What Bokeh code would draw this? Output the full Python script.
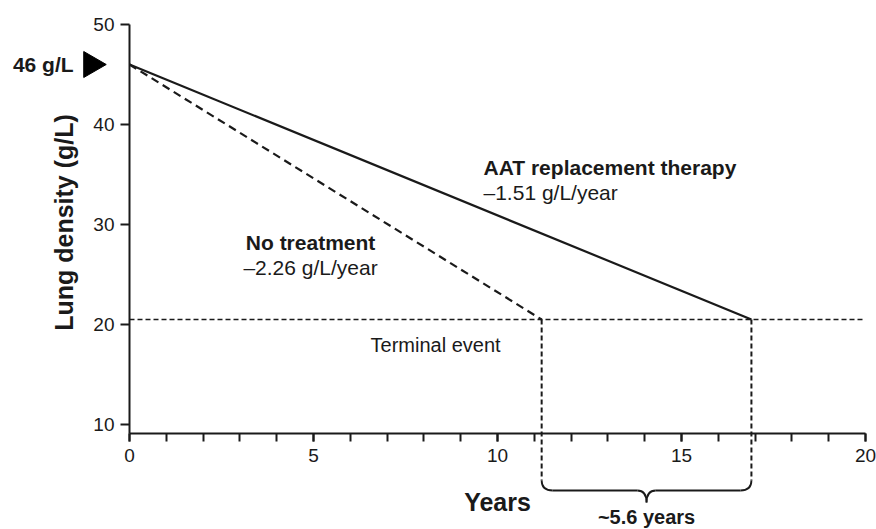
import math
from bokeh.plotting import figure
from bokeh.models import FixedTicker, Range1d
from bokeh.core.properties import value
from bokeh.embed import file_html
from bokeh.resources import INLINE

# ---------------- data ----------------
year_ticks = [0, 5, 10, 15, 20]
year_minor_ticks = list(range(0, 21))
density_ticks = [10, 20, 30, 40, 50]

baseline_density = 46
terminal_density = 20.5

no_treatment_x = [0, 11.2]
no_treatment_y = [46, 20.5]
aat_x = [0, 16.9]
aat_y = [46, 20.5]

terminal_x = [0, 20]

baseline_label = "46 g/L"
no_treatment_title = "No treatment"
no_treatment_rate = "\u20132.26 g/L/year"
aat_title = "AAT replacement therapy"
aat_rate = "\u20131.51 g/L/year"
terminal_label = "Terminal event"
gap_label = "~5.6 years"
x_title = "Years"
y_title = "Lung density (g/L)"

# ---------------- figure ----------------
W, H = 876, 529
PX_PER_YEAR = 36.8
PX_PER_GL = 10.0
x_start = -129 / PX_PER_YEAR
y_end = 50 + 24 / PX_PER_GL

p = figure(width=W, height=H, output_backend="svg", toolbar_location=None,
           x_range=Range1d(x_start, x_start + W / PX_PER_YEAR),
           y_range=Range1d(y_end - H / PX_PER_GL, y_end),
           min_border=0)
p.outline_line_color = None
p.grid.visible = False
p.background_fill_color = "white"
p.border_fill_color = "white"

FONT = value("Liberation Sans")
INK = "#1a1a1a"
X_AXIS_AT = 9.15

# axes
xa = p.xaxis[0]
xa.fixed_location = X_AXIS_AT
xa.bounds = (0, 20)
xa.ticker = FixedTicker(ticks=year_ticks, minor_ticks=year_minor_ticks)
ya = p.yaxis[0]
ya.fixed_location = 0
ya.bounds = (X_AXIS_AT, 50)
ya.ticker = FixedTicker(ticks=density_ticks, minor_ticks=[])
for ax in (xa, ya):
    ax.axis_line_width = 2
    ax.axis_line_color = INK
    ax.major_tick_line_width = 2
    ax.major_tick_line_color = INK
    ax.minor_tick_line_width = 2
    ax.minor_tick_line_color = INK
    ax.major_tick_in = 0
    ax.minor_tick_in = 0
    ax.major_label_text_font = "Liberation Sans"
    ax.major_label_text_font_size = "19px"
    ax.major_label_text_color = INK
xa.major_tick_out = 8
xa.minor_tick_out = 8
xa.major_label_standoff = 8
ya.major_tick_out = 9
ya.major_label_standoff = 6

# terminal event line
p.line(terminal_x, [terminal_density, terminal_density], line_color=INK,
       line_width=1.6, line_dash="5 3")

# treatment lines
p.line(no_treatment_x, no_treatment_y, line_color=INK, line_width=2.2, line_dash="8 5")
p.line(aat_x, aat_y, line_color=INK, line_width=2.2)

# brace beneath the gap
bx0 = no_treatment_x[1]
bx1 = aat_x[1]
bxm = (bx0 + bx1) / 2
by_top, by_mid, by_tip = 4.4, 3.4, 2.2
rc, rt = 0.3, 0.25
p.segment(x0=[bx0, bx1], y0=[terminal_density, terminal_density],
          x1=[bx0, bx1], y1=[by_top, by_top],
          line_color=INK, line_width=2, line_dash="5 3")
p.quadratic(x0=[bx0, bx1, bxm - rt, bxm + rt],
            y0=[by_top, by_top, by_mid, by_mid],
            x1=[bx0 + rc, bx1 - rc, bxm, bxm],
            y1=[by_mid, by_mid, by_tip, by_tip],
            cx=[bx0, bx1, bxm, bxm],
            cy=[by_mid, by_mid, by_mid, by_mid],
            line_color=INK, line_width=1.8)
p.segment(x0=[bx0 + rc, bxm + rt], y0=[by_mid, by_mid],
          x1=[bxm - rt, bx1 - rc], y1=[by_mid, by_mid],
          line_color=INK, line_width=1.8)

# baseline marker
p.scatter(x=[-1.04], y=[baseline_density], marker="triangle", angle=-math.pi / 2,
          size=26, fill_color="black", line_color="black")
p.text(x=[-1.52], y=[baseline_density], text=[baseline_label], text_font=FONT,
       text_font_size="21px", text_font_style="bold", text_align="right",
       text_baseline="middle", text_color=INK)

# annotations
p.text(x=[4.92], y=[28.2], text=[no_treatment_title], text_font=FONT,
       text_font_size="21px", text_font_style="bold", text_align="center",
       text_baseline="alphabetic", text_color=INK)
p.text(x=[4.92], y=[25.7], text=[no_treatment_rate], text_font=FONT,
       text_font_size="21px", text_align="center",
       text_baseline="alphabetic", text_color=INK)
p.text(x=[9.62], y=[35.7], text=[aat_title], text_font=FONT,
       text_font_size="21px", text_font_style="bold", text_align="left",
       text_baseline="alphabetic", text_color=INK)
p.text(x=[9.62], y=[33.2], text=[aat_rate], text_font=FONT,
       text_font_size="21px", text_align="left",
       text_baseline="alphabetic", text_color=INK)
p.text(x=[6.55], y=[18.0], text=[terminal_label], text_font=FONT,
       text_font_size="20px", text_align="left",
       text_baseline="alphabetic", text_color=INK)
p.text(x=[bxm], y=[0.8], text=[gap_label], text_font=FONT,
       text_font_size="20px", text_font_style="bold", text_align="center",
       text_baseline="alphabetic", text_color=INK)

# axis titles
p.text(x=[10], y=[2.3], text=[x_title], text_font=FONT,
       text_font_size="25px", text_font_style="bold", text_align="center",
       text_baseline="alphabetic", text_color=INK)
p.text(x=[-1.77], y=[30.2], text=[y_title], text_font=FONT, angle=math.pi / 2,
       text_font_size="25px", text_font_style="bold", text_align="center",
       text_baseline="middle", text_color=INK)

open("out.html", "w").write(file_html(p, INLINE))
